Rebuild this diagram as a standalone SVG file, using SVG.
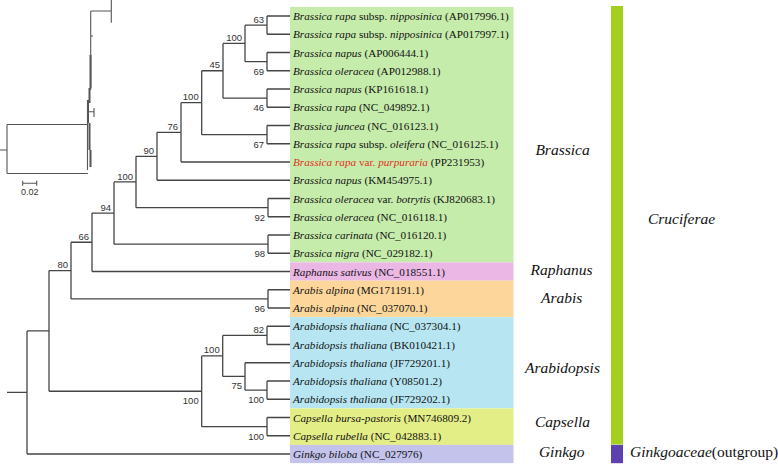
<svg xmlns="http://www.w3.org/2000/svg" width="778" height="464" viewBox="0 0 778 464">
<style>
.br{fill:none;stroke:#454545;stroke-width:1.3}
.ins{fill:none;stroke:#555;stroke-width:1.1}
.bs{font-family:"Liberation Sans",Arial,sans-serif;font-size:9.5px;fill:#333;text-anchor:end}
.lf{font-family:"Liberation Serif","Times New Roman",serif;font-size:11.2px;fill:#111}
.red{fill:#e0301e}
.i{font-style:italic}
.grp{font-family:"Liberation Serif","Times New Roman",serif;font-size:15.5px;font-style:italic;fill:#111;text-anchor:middle}
.fam{font-family:"Liberation Serif","Times New Roman",serif;font-size:15.5px;fill:#111}
</style>
<rect width="778" height="464" fill="#fff"/>
<g id="clade-boxes">
<rect x="290" y="6.9" width="223.5" height="255.5" fill="#c6ecab"/>
<rect x="290" y="262.4" width="223.5" height="18.25" fill="#ebb7e5"/>
<rect x="290" y="280.6" width="223.5" height="36.5" fill="#fcd69b"/>
<rect x="290" y="317.1" width="223.5" height="91.25" fill="#b7e6f2"/>
<rect x="290" y="408.4" width="223.5" height="36.5" fill="#e4ee86"/>
<rect x="290" y="444.9" width="223.5" height="18.25" fill="#c3c3ec"/>
</g>
<g id="inset">
<path class="ins" d="M0,150H7M7,124.5V173.5M7,124.5H87M7,173.5H88M90.7,11V90M90.7,11H111.3M111.3,0V22.7M90.7,36H93M87.5,100V170M87.5,111.7H94M94,108V117"/>
<path fill="none" stroke="#555" stroke-width="2" d="M90.5,55V88M89.5,88V103M88,100V123M89.5,123V150M90.5,150V167"/>
<path class="ins" d="M22.7,183.3H36.7M22.7,180.8V185.8M36.7,180.8V185.8"/>
<text x="29.7" y="195" font-family="Liberation Sans,Arial,sans-serif" font-size="9" fill="#333" text-anchor="middle">0.02</text>
</g>
<g id="connectors">
<path class="br" d="M267,16V34.25M267,16H290M267,34.25H290"/>
<path class="br" d="M267,52.5V70.75M267,52.5H290M267,70.75H290"/>
<path class="br" d="M245,25.13V61.63M245,25.13H267M245,61.63H267"/>
<path class="br" d="M267,89V107.25M267,89H290M267,107.25H290"/>
<path class="br" d="M223,43.38V98.13M223,43.38H245M223,98.13H267"/>
<path class="br" d="M267,125.5V143.75M267,125.5H290M267,143.75H290"/>
<path class="br" d="M201.7,70.75V134.63M201.7,70.75H223M201.7,134.63H267"/>
<path class="br" d="M181,102.69V162M181,102.69H201.7M181,162H290"/>
<path class="br" d="M157,132.34V180.25M157,132.34H181M157,180.25H290"/>
<path class="br" d="M268,198.5V216.75M268,198.5H290M268,216.75H290"/>
<path class="br" d="M136,156.3V207.63M136,156.3H157M136,207.63H268"/>
<path class="br" d="M268,235V253.25M268,235H290M268,253.25H290"/>
<path class="br" d="M114,181.96V244.13M114,181.96H136M114,244.13H268"/>
<path class="br" d="M92,213.04V271.5M92,213.04H114M92,271.5H290"/>
<path class="br" d="M268,289.75V308M268,289.75H290M268,308H290"/>
<path class="br" d="M71,242.27V298.88M71,242.27H92M71,298.88H268"/>
<path class="br" d="M267,326.25V344.5M267,326.25H290M267,344.5H290"/>
<path class="br" d="M267,381V399.25M267,381H290M267,399.25H290"/>
<path class="br" d="M245,362.75V390.13M245,362.75H290M245,390.13H267"/>
<path class="br" d="M222.7,335.38V376.44M222.7,335.38H267M222.7,376.44H245"/>
<path class="br" d="M267,417.5V435.75M267,417.5H290M267,435.75H290"/>
<path class="br" d="M201.7,355.91V426.63M201.7,355.91H222.7M201.7,426.63H267"/>
<path class="br" d="M49,270.58V391.27M49,270.58H71M49,391.27H201.7"/>
<path class="br" d="M27,330.92V454M27,330.92H49M27,454H290M7,392.46H27"/>
</g>
<g id="bootstrap">
<text class="bs" x="264" y="22.6">63</text>
<text class="bs" x="242" y="40.9">100</text>
<text class="bs" x="220" y="68.25">45</text>
<text class="bs" x="198.7" y="100.2">100</text>
<text class="bs" x="178" y="129.8">76</text>
<text class="bs" x="154" y="153.8">90</text>
<text class="bs" x="133" y="179.5">100</text>
<text class="bs" x="111" y="210.5">94</text>
<text class="bs" x="89" y="239.8">66</text>
<text class="bs" x="68" y="268.1">80</text>
<text class="bs" x="264" y="332.9">82</text>
<text class="bs" x="219.7" y="353.4">100</text>
<text class="bs" x="264" y="74.6">69</text>
<text class="bs" x="264" y="111.1">46</text>
<text class="bs" x="264" y="147.6">67</text>
<text class="bs" x="265" y="220.6">92</text>
<text class="bs" x="265" y="257.1">98</text>
<text class="bs" x="265" y="311.9">96</text>
<text class="bs" x="242" y="389.4">75</text>
<text class="bs" x="264" y="403.1">100</text>
<text class="bs" x="198.7" y="404.3">100</text>
<text class="bs" x="264" y="439.6">100</text>
</g>
<g id="leaves">
<text class="lf" x="293" y="20"><tspan class="i">Brassica rapa</tspan> subsp. <tspan class="i">nipposinica</tspan> (AP017996.1)</text>
<text class="lf" x="293" y="38.25"><tspan class="i">Brassica rapa</tspan> subsp. <tspan class="i">nipposinica</tspan> (AP017997.1)</text>
<text class="lf" x="293" y="56.5"><tspan class="i">Brassica napus</tspan> (AP006444.1)</text>
<text class="lf" x="293" y="74.75"><tspan class="i">Brassica oleracea</tspan> (AP012988.1)</text>
<text class="lf" x="293" y="93"><tspan class="i">Brassica napus</tspan> (KP161618.1)</text>
<text class="lf" x="293" y="111.25"><tspan class="i">Brassica rapa</tspan> (NC_049892.1)</text>
<text class="lf" x="293" y="129.5"><tspan class="i">Brassica juncea</tspan> (NC_016123.1)</text>
<text class="lf" x="293" y="147.75"><tspan class="i">Brassica rapa</tspan> subsp. <tspan class="i">oleifera</tspan> (NC_016125.1)</text>
<text class="lf" x="293" y="166"><tspan class="i red">Brassica rapa</tspan><tspan class="red"> var. </tspan><tspan class="i red">purpuraria</tspan> (PP231953)</text>
<text class="lf" x="293" y="184.25"><tspan class="i">Brassica napus</tspan> (KM454975.1)</text>
<text class="lf" x="293" y="202.5"><tspan class="i">Brassica oleracea</tspan> var. <tspan class="i">botrytis</tspan> (KJ820683.1)</text>
<text class="lf" x="293" y="220.75"><tspan class="i">Brassica oleracea</tspan> (NC_016118.1)</text>
<text class="lf" x="293" y="239"><tspan class="i">Brassica carinata</tspan> (NC_016120.1)</text>
<text class="lf" x="293" y="257.25"><tspan class="i">Brassica nigra</tspan> (NC_029182.1)</text>
<text class="lf" x="293" y="275.5"><tspan class="i">Raphanus sativus</tspan> (NC_018551.1)</text>
<text class="lf" x="293" y="293.75"><tspan class="i">Arabis alpina</tspan> (MG171191.1)</text>
<text class="lf" x="293" y="312"><tspan class="i">Arabis alpina</tspan> (NC_037070.1)</text>
<text class="lf" x="293" y="330.25"><tspan class="i">Arabidopsis thaliana</tspan> (NC_037304.1)</text>
<text class="lf" x="293" y="348.5"><tspan class="i">Arabidopsis thaliana</tspan> (BK010421.1)</text>
<text class="lf" x="293" y="366.75"><tspan class="i">Arabidopsis thaliana</tspan> (JF729201.1)</text>
<text class="lf" x="293" y="385"><tspan class="i">Arabidopsis thaliana</tspan> (Y08501.2)</text>
<text class="lf" x="293" y="403.25"><tspan class="i">Arabidopsis thaliana</tspan> (JF729202.1)</text>
<text class="lf" x="293" y="421.5"><tspan class="i">Capsella bursa-pastoris</tspan> (MN746809.2)</text>
<text class="lf" x="293" y="439.75"><tspan class="i">Capsella rubella</tspan> (NC_042883.1)</text>
<text class="lf" x="293" y="458"><tspan class="i">Ginkgo biloba</tspan> (NC_027976)</text>
</g>
<g id="genus-labels">
<text class="grp" x="562.5" y="155">Brassica</text>
<text class="grp" x="561.5" y="275">Raphanus</text>
<text class="grp" x="561.7" y="302.7">Arabis</text>
<text class="grp" x="562.5" y="373.3">Arabidopsis</text>
<text class="grp" x="562.5" y="427.3">Capsella</text>
<text class="grp" x="561.7" y="456.7">Ginkgo</text>
</g>
<g id="family-bars">
<rect x="611" y="6" width="12" height="438.5" fill="#a3cf1e"/>
<rect x="611" y="444.9" width="12" height="18.3" fill="#5b42b0"/>
<text class="fam" x="648" y="224"><tspan class="i">Cruciferae</tspan></text>
<text class="fam" x="630" y="456.7"><tspan class="i">Ginkgoaceae</tspan>(outgroup)</text>
</g>
</svg>
